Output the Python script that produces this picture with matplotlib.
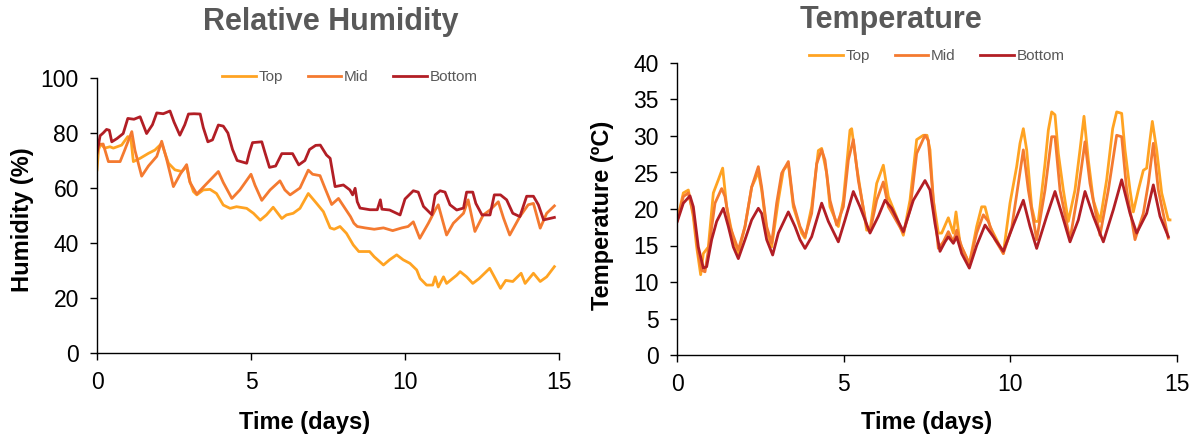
import matplotlib
matplotlib.use("Agg")
import matplotlib.pyplot as plt

plt.rcParams['font.family'] = ['Liberation Sans', 'DejaVu Sans']

# ---------------- Relative humidity data ----------------
rh_top_days = [0.0, 0.05, 0.12, 0.25, 0.42, 0.53, 0.8, 1.0, 1.1, 1.18, 1.4, 1.67, 1.88, 2.1,
               2.32, 2.53, 2.75, 2.91, 3.0, 3.13, 3.24, 3.45, 3.67, 3.88, 4.1, 4.32, 4.53,
               4.86, 5.08, 5.3, 5.5, 5.72, 6.0, 6.15, 6.37, 6.59, 6.86, 7.13, 7.35, 7.57,
               7.7, 7.89, 8.1, 8.32, 8.5, 8.85, 9.0, 9.3, 9.5, 9.73, 9.94, 10.16, 10.38,
               10.49, 10.7, 10.9, 10.98, 11.08, 11.25, 11.35, 11.68, 11.79, 12.0, 12.2,
               12.4, 12.75, 12.9, 13.1, 13.27, 13.5, 13.77, 13.9, 14.17, 14.39, 14.6, 14.85]
rh_top = [66.6, 74.0, 76.0, 74.5, 75.0, 74.5, 75.6, 78.7, 78.0, 69.6, 70.8, 72.6, 73.8, 76.2,
          69.0, 66.6, 66.0, 67.8, 62.9, 58.7, 57.5, 59.3, 59.5, 58.0, 53.8, 52.6, 53.2,
          52.6, 50.8, 48.3, 50.2, 53.0, 48.9, 50.2, 50.8, 52.6, 58.0, 54.4, 51.4, 45.5,
          45.0, 46.0, 43.5, 39.3, 36.9, 36.9, 35.0, 32.0, 33.9, 35.7, 33.9, 32.6, 30.2,
          27.1, 24.7, 24.7, 27.7, 24.0, 27.7, 25.3, 28.3, 29.6, 27.7, 25.3,
          27.0, 30.8, 27.7, 23.5, 26.4, 26.0, 29.0, 25.3, 29.0, 26.0, 27.7, 31.4]

rh_mid_days = [0.0, 0.2, 0.37, 0.75, 0.9, 1.13, 1.23, 1.45, 1.67, 1.94, 2.1, 2.26, 2.48, 2.7,
               2.91, 3.02, 3.24, 3.51, 3.94, 4.1, 4.38, 4.64, 5.0, 5.13, 5.35, 5.62, 5.94,
               6.1, 6.27, 6.59, 6.86, 7.0, 7.24, 7.4, 7.62, 7.84, 8.23, 8.34, 8.45, 8.7,
               9.0, 9.3, 9.6, 9.9, 10.1, 10.27, 10.48, 10.76, 10.98, 11.08, 11.35, 11.57,
               11.9, 12.05, 12.27, 12.54, 12.76, 13.03, 13.2, 13.4, 13.73, 14.0, 14.17,
               14.39, 14.6, 14.85]
rh_mid = [75.6, 76.0, 69.6, 69.6, 73.8, 80.5, 73.8, 64.3, 68.0, 71.5, 77.0, 70.5, 60.5, 65.0,
          68.5, 62.0, 57.8, 61.0, 66.0, 62.0, 56.2, 59.3, 65.0, 61.0, 55.5, 59.3, 62.6,
          59.3, 57.5, 60.0, 66.5, 65.0, 64.5, 60.0, 54.0, 56.2, 49.6, 47.2, 46.0, 45.5,
          45.0, 45.5, 44.5, 45.5, 46.0, 47.7, 41.7, 47.2, 52.0, 53.9, 42.9, 47.2,
          50.8, 55.7, 44.2, 50.2, 52.0, 55.0, 49.0, 42.9, 49.6, 53.9, 54.4,
          45.4, 50.8, 53.5]

rh_bot_days = [0.0, 0.1, 0.2, 0.31, 0.4, 0.48, 0.65, 0.85, 1.0, 1.2, 1.4, 1.5, 1.61, 1.8,
               1.94, 2.15, 2.37, 2.5, 2.69, 2.85, 2.97, 3.15, 3.35, 3.45, 3.6, 3.75, 3.94,
               4.1, 4.25, 4.4, 4.55, 4.86, 4.95, 5.05, 5.35, 5.45, 5.6, 5.8, 6.0, 6.35,
               6.55, 6.75, 6.9, 7.1, 7.25, 7.45, 7.57, 7.73, 8.0, 8.21, 8.3, 8.38, 8.45,
               8.54, 8.86, 9.1, 9.2, 9.25, 9.5, 9.84, 10.0, 10.27, 10.43, 10.6, 10.87,
               10.98, 11.14, 11.3, 11.46, 11.68, 11.9, 12.0, 12.2, 12.3, 12.5, 12.76,
               12.9, 13.1, 13.3, 13.5, 13.73, 13.95, 14.17, 14.33, 14.5, 14.85]
rh_bot = [72.7, 79.0, 80.0, 81.3, 81.0, 76.8, 78.0, 79.8, 85.3, 85.0, 85.9, 83.0, 79.8, 83.0,
          87.3, 87.0, 88.0, 84.0, 79.2, 83.0, 86.9, 87.0, 86.9, 82.0, 76.8, 77.5, 82.9,
          82.5, 80.0, 74.0, 70.0, 69.0, 73.0, 76.5, 76.8, 73.0, 67.5, 68.0, 72.5, 72.5,
          68.4, 70.0, 74.0, 75.5, 75.6, 72.0, 70.8, 60.5, 61.1, 59.3, 57.5, 59.9, 55.0,
          52.7, 52.1, 52.1, 55.7, 52.3, 52.0, 50.2, 56.0, 59.0, 58.5, 53.3, 50.3,
          57.5, 59.0, 58.5, 53.9, 52.0, 52.7, 58.5, 58.5, 54.4, 50.2, 50.2,
          57.5, 57.5, 55.7, 50.8, 49.6, 57.0, 57.0, 53.9, 48.4, 49.3]

# ---------------- Temperature data ----------------
t_top_days = [0.01, 0.19, 0.34, 0.49, 0.59, 0.71, 0.79, 0.94, 1.09, 1.24, 1.37, 1.49, 1.69,
              1.84, 2.04, 2.24, 2.34, 2.44, 2.54, 2.69, 2.84, 3.04, 3.19, 3.34, 3.49, 3.74,
              3.84, 4.04, 4.24, 4.34, 4.49, 4.59, 4.84, 4.99, 5.19, 5.24, 5.39, 5.69, 5.79,
              5.99, 6.19, 6.34, 6.59, 6.79, 6.99, 7.19, 7.39, 7.5, 7.59, 7.69, 7.84, 7.94,
              8.14, 8.29, 8.37, 8.49, 8.77, 8.99, 9.14, 9.24, 9.39, 9.59, 9.79, 9.99,
              10.19, 10.29, 10.39, 10.49, 10.64, 10.74, 10.84, 11.04, 11.14, 11.24,
              11.34, 11.44, 11.59, 11.74, 11.94, 12.09, 12.21, 12.34, 12.49, 12.69,
              12.89, 13.07, 13.19, 13.34, 13.44, 13.59, 13.69, 13.84, 13.99, 14.09,
              14.19, 14.26, 14.39, 14.54, 14.74, 14.79]
t_top = [18.5, 22.2, 22.6, 18.9, 14.8, 11.0, 13.9, 14.8, 22.2, 24.0, 25.6, 20.3, 15.8,
         13.9, 17.6, 23.0, 24.0, 25.1, 22.6, 17.1, 14.8, 21.2, 25.3, 26.2, 20.3, 16.7,
         16.0, 20.3, 28.0, 28.3, 24.9, 20.3, 17.6, 21.2, 30.8, 31.0, 25.8, 17.1, 17.1,
         23.5, 26.0, 21.7, 18.9, 16.4, 21.2, 29.5, 30.1, 30.1, 28.1, 21.2, 16.7, 16.7,
         18.8, 16.7, 19.6, 15.3, 12.5, 17.6, 20.3, 20.3, 17.6, 15.8, 13.9, 20.8,
         25.8, 29.0, 31.0, 28.1, 20.3, 18.3, 18.3, 26.2, 30.8, 33.3,
         32.9, 27.6, 22.6, 18.3, 22.6, 28.1, 32.7, 26.7, 21.2, 18.3,
         24.0, 31.0, 33.3, 33.1, 28.1, 22.6, 19.6, 22.6, 25.3, 25.6,
         29.5, 32.0, 28.1, 22.2, 18.5, 18.5]

t_mid_days = [0.01, 0.19, 0.34, 0.49, 0.64, 0.74, 0.84, 0.99, 1.14, 1.34, 1.44, 1.59, 1.84,
              2.04, 2.24, 2.44, 2.54, 2.69, 2.84, 2.99, 3.14, 3.34, 3.49, 3.69, 3.84, 4.04,
              4.19, 4.34, 4.44, 4.59, 4.79, 4.99, 5.14, 5.29, 5.44, 5.69, 5.79, 5.99, 6.19,
              6.34, 6.59, 6.79, 6.99, 7.19, 7.44, 7.54, 7.69, 7.84, 7.99, 8.14, 8.29, 8.39,
              8.54, 8.77, 8.99, 9.19, 9.34, 9.54, 9.79, 10.04, 10.24, 10.39, 10.54, 10.79,
              11.04, 11.24, 11.34, 11.49, 11.79, 12.04, 12.24, 12.39, 12.69, 12.94, 13.19,
              13.34, 13.49, 13.74, 13.99, 14.14, 14.29, 14.44, 14.74]
t_mid = [18.5, 21.7, 22.2, 19.4, 13.9, 11.6, 11.4, 15.8, 20.8, 22.8, 21.7, 17.6, 14.4,
         17.6, 23.0, 25.8, 23.0, 17.6, 15.3, 20.8, 24.9, 26.5, 20.8, 17.6, 16.2, 19.4,
         26.2, 28.1, 26.7, 21.2, 17.8, 20.3, 26.7, 29.5, 23.9, 17.6, 16.9, 21.2, 23.7,
         20.3, 18.3, 16.7, 19.9, 27.6, 30.1, 29.4, 21.2, 14.6, 15.5, 16.9, 15.5, 17.1,
         14.8, 12.5, 16.7, 19.2, 18.3, 15.8, 13.9, 17.4, 23.5, 28.1, 22.6, 15.8,
         22.6, 29.9, 29.9, 22.6, 15.8, 22.6, 29.2, 23.5, 16.4, 22.6, 30.1,
         29.9, 22.6, 15.8, 19.4, 23.5, 29.0, 22.6, 16.0]

t_bot_days = [0.01, 0.19, 0.39, 0.49, 0.64, 0.79, 0.89, 1.04, 1.19, 1.39, 1.54, 1.69, 1.84,
              2.04, 2.24, 2.44, 2.54, 2.69, 2.87, 3.04, 3.34, 3.54, 3.69, 3.84, 4.04, 4.34,
              4.54, 4.84, 5.04, 5.29, 5.49, 5.79, 6.04, 6.24, 6.44, 6.79, 7.09, 7.44, 7.59,
              7.74, 7.89, 8.04, 8.14, 8.29, 8.39, 8.54, 8.77, 8.99, 9.24, 9.49, 9.79,
              10.09, 10.39, 10.59, 10.79, 11.09, 11.34, 11.54, 11.79, 12.04, 12.24, 12.49,
              12.79, 13.09, 13.34, 13.59, 13.79, 14.09, 14.29, 14.49, 14.74]
t_bot = [18.3, 20.8, 21.8, 20.3, 14.8, 11.9, 12.1, 15.8, 18.3, 20.1, 17.6, 14.8, 13.2,
         15.8, 18.5, 20.1, 19.4, 15.8, 13.7, 16.7, 19.6, 17.6, 15.8, 14.6, 16.2, 20.8,
         18.3, 15.5, 18.5, 22.4, 20.3, 16.7, 19.0, 21.2, 20.1, 16.9, 21.2, 23.9, 22.6,
         18.0, 14.2, 15.5, 16.2, 15.3, 16.2, 13.9, 11.9, 15.0, 17.8, 16.2, 14.2,
         17.8, 21.2, 17.6, 14.6, 19.0, 22.4, 19.4, 15.5, 18.5, 22.4, 19.0,
         15.5, 19.9, 24.0, 19.4, 16.7, 19.4, 23.3, 19.0, 16.2]

series_labels = ["Top", "Mid", "Bottom"]
colors = ["#FFA322", "#F47A30", "#B21E25"]
x_ticks = [0, 5, 10, 15]
rh_ticks = [0, 20, 40, 60, 80, 100]
t_ticks = [0, 5, 10, 15, 20, 25, 30, 35, 40]

W, H = 1202, 437
fig = plt.figure(figsize=(W / 100, H / 100), dpi=100)

ax1 = fig.add_axes([97 / W, 1 - 353 / H, (559 - 97) / W, (353 - 78) / H])
ax2 = fig.add_axes([677 / W, 1 - 355 / H, (1177 - 677) / W, (355 - 63) / H])

lw = 2.0
for d, v, lab, c in zip([rh_top_days, rh_mid_days, rh_bot_days], [rh_top, rh_mid, rh_bot],
                        series_labels, colors):
    ax1.plot(d, v, color=c, lw=lw, label=lab, solid_joinstyle='round')
for d, v, lab, c in zip([t_top_days, t_mid_days, t_bot_days], [t_top, t_mid, t_bot],
                        series_labels, colors):
    ax2.plot(d, v, color=c, lw=lw, label=lab, solid_joinstyle='round')

label_pos = {
    "ax1": ((305, 422), (22, 220)),
    "ax2": ((927, 422), (603, 215)),
}
for name, ax, yt, ylab in [("ax1", ax1, rh_ticks, "Humidity (%)"),
                           ("ax2", ax2, t_ticks, "Temperature (ºC)")]:
    ax.set_xlim(0, 15)
    ax.set_ylim(yt[0], yt[-1])
    ax.set_xticks(x_ticks)
    ax.set_yticks(yt)
    for s in ["top", "right"]:
        ax.spines[s].set_visible(False)
    for s in ["left", "bottom"]:
        ax.spines[s].set_color("black")
        ax.spines[s].set_linewidth(1.0)
    ax.tick_params(direction="out", length=5, width=1, colors="black", labelsize=16.5, pad=8)
    ax.set_xlabel("Time (days)", fontsize=17, fontweight="bold", va="center")
    ax.set_ylabel(ylab, fontsize=17, fontweight="bold", va="center")
    (xx, xy), (yx, yy) = label_pos[name]
    ax.xaxis.set_label_coords(xx / W, 1 - xy / H, transform=fig.transFigure)
    ax.yaxis.set_label_coords(yx / W, 1 - yy / H, transform=fig.transFigure)

ax1.legend(loc="center", bbox_to_anchor=(350 / W, 1 - 77 / H), bbox_transform=fig.transFigure,
           ncol=3, frameon=False, fontsize=11, handlelength=2.2, handletextpad=0.2,
           columnspacing=1.6, labelcolor="#595959")
ax2.legend(loc="center", bbox_to_anchor=(937 / W, 1 - 56 / H), bbox_transform=fig.transFigure,
           ncol=3, frameon=False, fontsize=11, handlelength=2.2, handletextpad=0.2,
           columnspacing=1.6, labelcolor="#595959")

fig.text(331 / W, 1 - 22 / H, "Relative Humidity", ha="center", va="center", fontsize=22,
         fontweight="bold", color="#595959")
fig.text(891 / W, 1 - 20 / H, "Temperature", ha="center", va="center", fontsize=22,
         fontweight="bold", color="#595959")

fig.savefig("out.png", dpi=100)
